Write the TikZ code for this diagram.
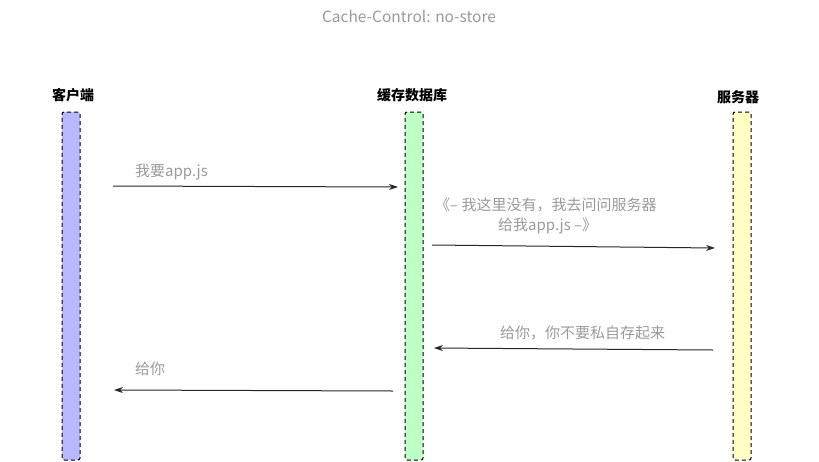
\documentclass[tikz,border=0pt]{standalone}
\usepackage{fontspec}
\setmainfont{Noto Sans CJK SC}
\usetikzlibrary{arrows.meta}
\definecolor{txtgray}{HTML}{9A9A9A}
\definecolor{clientfill}{HTML}{B8B8FF}
\definecolor{dbfill}{HTML}{BDFFC4}
\definecolor{srvfill}{HTML}{FFFFC4}
\tikzset{
  lifebar/.style={draw=black, dash pattern=on 4pt off 3pt, line width=1pt, minimum width=18pt, minimum height=348pt, inner sep=0pt, rounded corners=2pt},
  header/.style={font=\fontsize{14}{16}\selectfont\bfseries, text=black, inner sep=0pt},
  msg/.style={font=\fontsize{15}{20}\selectfont, text=txtgray, inner sep=0pt, anchor=west},
  msgarrow/.style={draw=black!85, line width=1pt, -{Stealth[length=9pt,width=6pt]}}
}
\begin{document}
\begin{tikzpicture}[x=1pt,y=-1pt]
\useasboundingbox (0,0) rectangle (819,461);
\node[font=\fontsize{15.5}{17}\selectfont, text=txtgray] (title) at (409,16) {Cache-Control: no-store};
\node[header] (hc) at (73,95) {客户端};
\node[header] (hd) at (412,95) {缓存数据库};
\node[header] (hs) at (738,97) {服务器};
\node[lifebar, fill=clientfill] (c) at (71,286) {};
\node[lifebar, fill=dbfill] (d) at (414,286) {};
\node[lifebar, fill=srvfill] (s) at (742,286) {};
\coordinate (a1s) at (113,186);
\coordinate (a1e) at (398,187);
\coordinate (a2s) at (432,245);
\coordinate (a2e) at (715,248);
\coordinate (a3s) at (713,350);
\coordinate (a3e) at (434,348);
\coordinate (a4s) at (393,391);
\coordinate (a4e) at (114,390);
\draw[msgarrow] (a1s) -- (a1e);
\draw[msgarrow] (a2s) -- (a2e);
\draw[msgarrow] (a3s) -- (a3e);
\draw[msgarrow] (a4s) -- (a4e);
\node[msg] (m1) at (135,172) {我要app.js};
\node[msg, align=left] (m2) at (435,216) {《– 我这里没有，我去问问服务器\\\hspace*{63pt}给我app.js –》};
\node[msg] (m3) at (500,333) {给你，你不要私自存起来};
\node[msg] (m4) at (135,369) {给你};
\end{tikzpicture}
\end{document}
